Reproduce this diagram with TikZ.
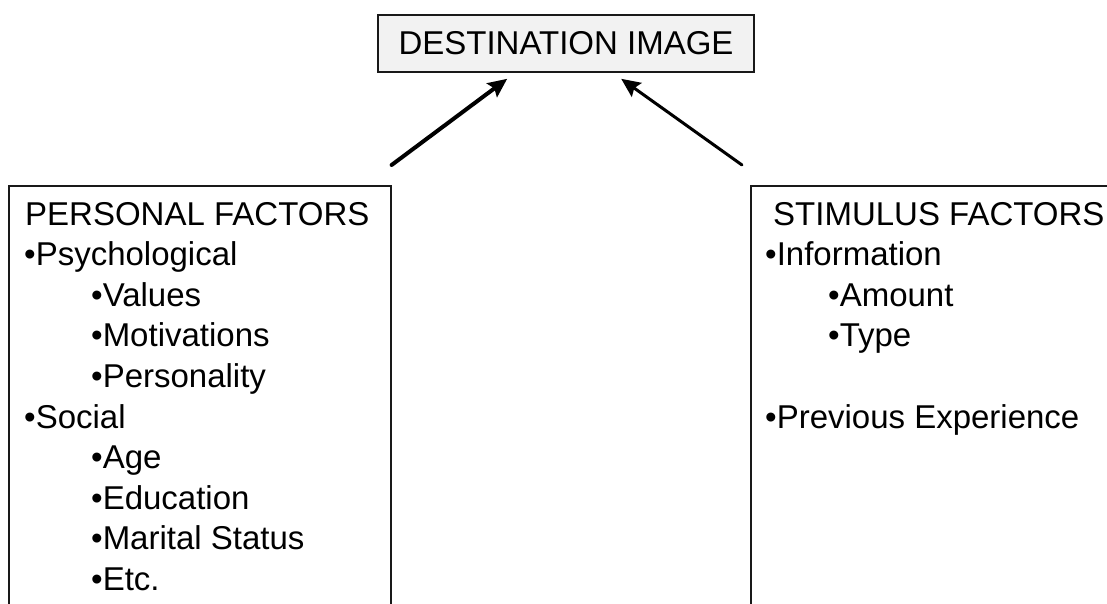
\documentclass[tikz,border=0pt]{standalone}
\usepackage{fontspec}
\setmainfont{Liberation Sans}
\usetikzlibrary{arrows.meta}
\begin{document}
\begin{tikzpicture}[x=1pt,y=-1pt,
  box/.style={draw=black!90,line width=1.6pt,inner sep=0pt},
  txt/.style={anchor=base west,inner sep=0pt,font=\fontsize{33pt}{40pt}\selectfont},
  arr/.style={-{Stealth[length=19pt,width=17pt,inset=3pt]},line cap=round}]
\useasboundingbox (0,0) rectangle (1107,603);
\fill[white] (0,0) rectangle (1107,603);
% destination box
\node[box,fill=black!5,minimum width=376pt,minimum height=57pt,font=\fontsize{33pt}{40pt}\selectfont] (dest) at (566,43.5) {DESTINATION IMAGE};
% factor boxes (extend below the page edge)
\node[box,fill=white,anchor=north west,minimum width=382pt,minimum height=460pt] (left) at (8,185) {};
\node[box,fill=white,anchor=north west,minimum width=420pt,minimum height=460pt] (right) at (750,185) {};
% arrows
\coordinate (ls) at ([yshift=20pt]left.north east);
\coordinate (rs) at ([xshift=-8pt,yshift=20pt]right.north west);
\coordinate (lt) at ([xshift=130pt,yshift=-6pt]dest.south west);
\coordinate (rt) at ([xshift=244pt,yshift=-6pt]dest.south west);
\draw[arr,line width=4pt] (ls) -- (lt);
\draw[arr,line width=3pt] (rs) -- (rt);
% left text
\node[txt] (p0) at (25,225) {PERSONAL FACTORS};
\node[txt] (p1) at (24,265.6) {•Psychological};
\node[txt] (p2) at (91,306.2) {•Values};
\node[txt] (p3) at (91,346.8) {•Motivations};
\node[txt] (p4) at (91,387.4) {•Personality};
\node[txt] (p5) at (24,428) {•Social};
\node[txt] (p6) at (91,468.6) {•Age};
\node[txt] (p7) at (91,509.2) {•Education};
\node[txt] (p8) at (91,549.8) {•Marital Status};
\node[txt] (p9) at (91,590.4) {•Etc.};
% right text
\node[txt] (s0) at (773,225) {STIMULUS FACTORS};
\node[txt] (s1) at (765,265.6) {•Information};
\node[txt] (s2) at (828,306.2) {•Amount};
\node[txt] (s3) at (828,346.8) {•Type};
\node[txt] (s5) at (765,428) {•Previous Experience};
\end{tikzpicture}
\end{document}
